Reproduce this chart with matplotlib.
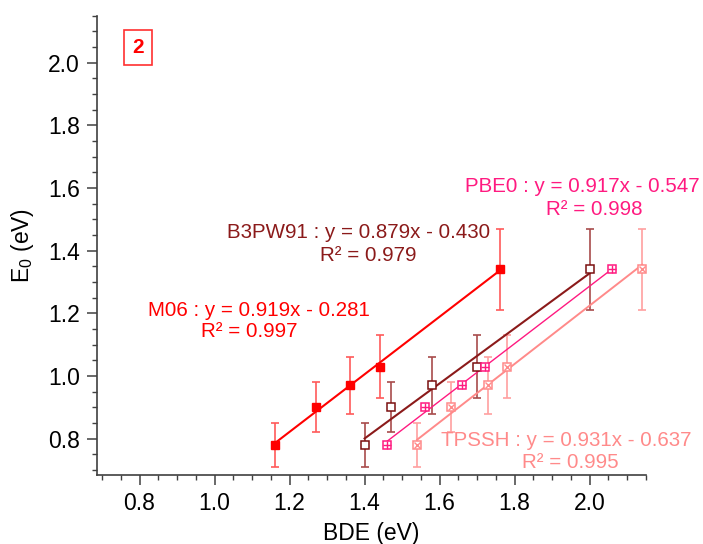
import numpy as np
import matplotlib.pyplot as plt
from matplotlib.ticker import MultipleLocator

plt.rcParams['font.family'] = ['Liberation Sans', 'DejaVu Sans']
plt.rcParams['mathtext.fontset'] = 'custom'
plt.rcParams['mathtext.rm'] = 'Liberation Sans'

# E0 experimental values (same for every functional) and their error bars
E0 = [0.78, 0.90, 0.97, 1.03, 1.34]
E0_err = [0.07, 0.08, 0.09, 0.10, 0.13]

# BDE (eV) for each functional
bde_M06 = [1.16, 1.27, 1.36, 1.44, 1.76]
bde_B3PW91 = [1.40, 1.47, 1.58, 1.70, 2.00]
bde_PBE0 = [1.46, 1.56, 1.66, 1.72, 2.06]
bde_TPSSH = [1.54, 1.63, 1.73, 1.78, 2.14]

# trendline coefficients as printed on the chart
fit_M06 = (0.919, -0.281, 0.997)
fit_B3PW91 = (0.879, -0.430, 0.979)
fit_PBE0 = (0.917, -0.547, 0.998)
fit_TPSSH = (0.931, -0.637, 0.995)

c_M06 = '#ff0000'
c_B3 = '#8b1a1a'
c_PBE0 = '#ff1a80'
c_TPSSH = '#ff8a8a'

fig = plt.figure(figsize=(7.03, 5.44), dpi=100)
ax = fig.add_axes([0.1376, 0.1268, 0.7813, 0.8443])

def trend(x, fit, color, lw):
    xs = np.array([min(x), max(x)])
    ax.plot(xs, fit[0] * xs + fit[1], color=color, lw=lw, zorder=3)

# error bars
ax.errorbar(bde_M06, E0, yerr=E0_err, fmt='none', ecolor='#ff5a5a', elinewidth=1.2,
            capsize=2.8, capthick=1.2, zorder=2)
ax.errorbar(bde_B3PW91, E0, yerr=E0_err, fmt='none', ecolor='#a84c4c', elinewidth=1.2,
            capsize=2.8, capthick=1.2, zorder=2)
ax.errorbar(bde_TPSSH, E0, yerr=E0_err, fmt='none', ecolor='#ffa0a0', elinewidth=1.2,
            capsize=2.8, capthick=1.2, zorder=2)

# trend lines
trend(bde_M06, fit_M06, c_M06, 1.5)
trend(bde_B3PW91, fit_B3PW91, c_B3, 1.5)
trend(bde_PBE0, fit_PBE0, c_PBE0, 1.0)
trend(bde_TPSSH, fit_TPSSH, c_TPSSH, 1.4)

# markers
ax.plot(bde_M06, E0, 's', ms=6, color=c_M06, mec=c_M06, ls='none', zorder=4)
ax.plot(bde_B3PW91, E0, 's', ms=5.6, mfc='white', mec='#7a1010', mew=1.1, ls='none', zorder=4)
ax.plot(bde_PBE0, E0, 's', ms=5.6, mfc='white', mec=c_PBE0, mew=1.1, ls='none', zorder=4)
ax.plot(bde_PBE0, E0, '+', ms=5.3, mec=c_PBE0, mew=1.0, ls='none', zorder=5)
ax.plot(bde_TPSSH, E0, 's', ms=5.8, mfc='white', mec=c_TPSSH, mew=1.1, ls='none', zorder=4)
ax.plot(bde_TPSSH, E0, 'x', ms=3.7, mec=c_TPSSH, mew=1.0, ls='none', zorder=5)

# equations
fs = 14.8
def eq(name, fit, color, x1, y1, x2, y2):
    ax.text(x1, y1, f'{name} : y = {fit[0]:.3f}x - {-fit[1]:.3f}', color=color,
            fontsize=fs, ha='center', va='baseline')
    ax.text(x2, y2, f'R\u00b2 = {fit[2]:.3f}', color=color,
            fontsize=fs, ha='center', va='baseline')

eq('B3PW91', fit_B3PW91, c_B3, 1.385, 1.441, 1.411, 1.368)
eq('M06', fit_M06, c_M06, 1.118, 1.190, 1.092, 1.123)
eq('PBE0', fit_PBE0, c_PBE0, 1.979, 1.587, 2.013, 1.514)
eq('TPSSH', fit_TPSSH, c_TPSSH, 1.937, 0.777, 1.949, 0.708)

ax.text(0.7957, 2.049, '2', color='#ff0000', fontsize=15, fontweight='bold',
        ha='center', va='center',
        bbox=dict(boxstyle='square,pad=0.4', fc='white', ec='#ff3030', lw=1.2))

ax.set_xlim(0.686, 2.15)
ax.set_ylim(0.684, 2.15)
ax.xaxis.set_major_locator(MultipleLocator(0.2))
ax.xaxis.set_minor_locator(MultipleLocator(0.05))
ax.yaxis.set_major_locator(MultipleLocator(0.2))
ax.yaxis.set_minor_locator(MultipleLocator(0.05))
ax.xaxis.set_major_formatter(plt.FormatStrFormatter('%.1f'))
ax.yaxis.set_major_formatter(plt.FormatStrFormatter('%.1f'))

for s in ['top', 'right']:
    ax.spines[s].set_visible(False)
for s in ['left', 'bottom']:
    ax.spines[s].set_color('#404040')
    ax.spines[s].set_linewidth(1.2)
ax.tick_params(which='major', direction='out', length=7, width=1.1, color='#404040',
               labelsize=16.5, pad=5)
ax.tick_params(which='minor', direction='out', length=3.5, width=1.0, color='#404040')

ax.set_xlabel('BDE (eV)', fontsize=16.5, labelpad=5)
ax.set_ylabel(r'$\mathregular{E_0}$ (eV)', fontsize=16.5, labelpad=9)

fig.savefig('out.png', dpi=100)
